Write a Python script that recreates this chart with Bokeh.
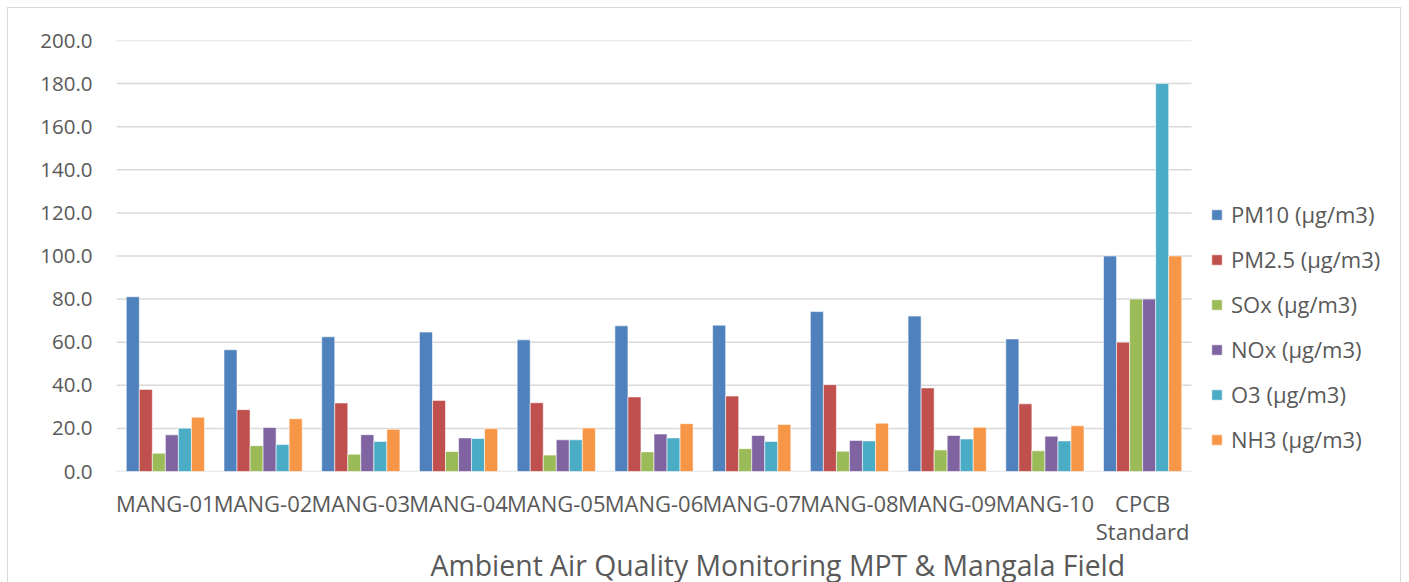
from bokeh.plotting import figure
from bokeh.models import (FixedTicker, NumeralTickFormatter, Legend, LegendItem, Title)
from bokeh.transform import dodge
from bokeh.embed import file_html
from bokeh.resources import INLINE

# Monitoring stations and the CPCB reference limits
stations = ["MANG-01", "MANG-02", "MANG-03", "MANG-04", "MANG-05", "MANG-06",
            "MANG-07", "MANG-08", "MANG-09", "MANG-10", "CPCB\nStandard"]

pm10 = [81.1, 56.5, 62.5, 64.7, 61.1, 67.6, 67.9, 74.2, 72.1, 61.5, 100.0]
pm25 = [38.1, 28.7, 31.8, 33.0, 31.9, 34.6, 35.0, 40.3, 38.8, 31.4, 60.0]
sox = [8.5, 12.0, 8.0, 9.3, 7.6, 9.1, 10.6, 9.4, 10.0, 9.6, 80.0]
nox = [17.0, 20.4, 17.1, 15.6, 14.7, 17.4, 16.7, 14.4, 16.7, 16.4, 80.0]
o3 = [20.1, 12.5, 13.9, 15.3, 14.7, 15.6, 13.9, 14.2, 15.1, 14.2, 180.0]
nh3 = [25.2, 24.5, 19.6, 19.9, 20.2, 22.2, 21.8, 22.4, 20.5, 21.2, 100.0]

series_names = ["PM10 (μg/m3)", "PM2.5 (μg/m3)", "SOx (μg/m3)",
                "NOx (μg/m3)", "O3 (μg/m3)", "NH3 (μg/m3)"]
series_values = [pm10, pm25, sox, nox, o3, nh3]
colors = ["#4F81BD", "#C0504D", "#9BBB59", "#8064A2", "#4BACC6", "#F79646"]
y_ticks = list(range(0, 201, 20))

FONT = "Open Sans"
TEXT = "#595959"
GRID = "#D9D9D9"

positions = list(range(len(stations)))
data = {"pos": positions}
for i, vals in enumerate(series_values):
    data[f"s{i}"] = vals

# The plotting frame runs to the right edge so the legend has room;
# categories occupy the left 1075 px of it.
FIG_W, BORDER_L = 1394, 108
cat_px = 1075 / len(stations)
x_end = -0.5 + (FIG_W - BORDER_L) / cat_px

p = figure(x_range=(-0.5, x_end), y_range=(0, 200),
           width=FIG_W, height=600, output_backend="svg", toolbar_location=None,
           min_border_left=BORDER_L, min_border_right=0, min_border_top=32,
           min_border_bottom=137)
p.margin = (7, 0, 0, 7)
p.styles = {"border": "1px solid #D9D9D9"}
p.outline_line_color = None
p.background_fill_color = "white"
p.border_fill_color = "white"

# Horizontal gridlines limited to the category area
p.segment(x0=[-0.5] * len(y_ticks), x1=[len(stations) - 0.5] * len(y_ticks),
          y0=y_ticks, y1=y_ticks, line_color=GRID, line_width=1.5)

bar_w = 0.8 / 6
items = []
for i, (name, color) in enumerate(zip(series_names, colors)):
    off = (i - 2.5) * bar_w
    r = p.vbar(x=dodge("pos", off), top=f"s{i}", width=bar_w,
               source=data, fill_color=color, line_color="white", line_width=0.8,
               line_alpha=0.7)
    items.append(LegendItem(label=name, renderers=[r]))

p.xgrid.grid_line_color = None
p.ygrid.grid_line_color = None

# Axes
p.yaxis.ticker = FixedTicker(ticks=y_ticks)
p.yaxis.formatter = NumeralTickFormatter(format="0.0")
p.yaxis.axis_line_color = None
p.yaxis.major_tick_line_color = None
p.yaxis.minor_tick_line_color = None
p.yaxis.major_label_standoff = 18
p.yaxis.major_label_text_font = FONT
p.yaxis.major_label_text_font_size = "20.5px"
p.yaxis.major_label_text_color = TEXT

p.xaxis.ticker = FixedTicker(ticks=positions)
p.xaxis.major_label_overrides = {k: s for k, s in zip(positions, stations)}
p.xaxis.axis_line_color = None
p.xaxis.major_tick_line_color = None
p.xaxis.minor_tick_line_color = None
p.xaxis.major_label_standoff = 10
p.xaxis.major_label_text_font = FONT
p.xaxis.major_label_text_font_size = "22px"
p.xaxis.major_label_text_color = TEXT
p.xaxis.major_label_text_line_height = 0.95

legend = Legend(items=items, location=(1094, 17), orientation="vertical",
                label_text_font=FONT, label_text_font_size="22px",
                label_text_color=TEXT, glyph_width=13, glyph_height=13,
                label_height=20, spacing=15, padding=0, margin=0,
                label_standoff=8, border_line_color=None,
                background_fill_alpha=0)
p.add_layout(legend, "center")

title = Title(text="Ambient Air Quality Monitoring MPT & Mangala Field",
              text_font=FONT, text_font_size="28.4px", text_color=TEXT,
              text_font_style="normal", align="left", offset=314, standoff=-11)
p.add_layout(title, "below")

open("out.html", "w").write(file_html(p, INLINE))
